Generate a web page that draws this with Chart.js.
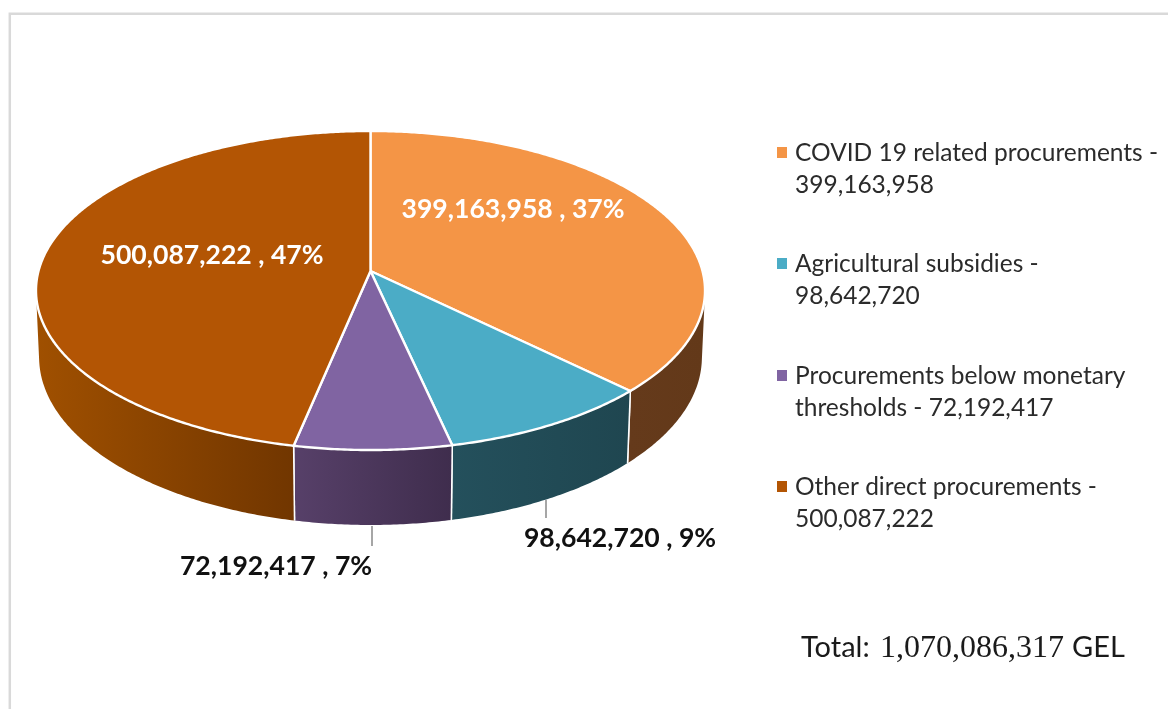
<!DOCTYPE html>
<html><head><meta charset="utf-8">
<style>html,body{margin:0;padding:0;background:#fff;overflow:hidden}canvas{display:block}</style>
<script src="https://cdn.jsdelivr.net/npm/chart.js@4/dist/chart.umd.js"></script>
</head><body><canvas id="c" width="1168" height="709"></canvas>
<script>
const categories = ["COVID 19 related procurements", "Agricultural subsidies", "Procurements below monetary thresholds", "Other direct procurements"];
const values = [399163958, 98642720, 72192417, 500087222];
const faceColors = ["#F49546", "#4BACC6", "#8064A2", "#B35504"];
const wallLeft = ["#653A1B", "#24505C", "#574069", "#A05000"];
const wallRight = ["#633919", "#1F4650", "#3F2D4D", "#713600"];
const labelColors = ["#ffffff", "#111111", "#111111", "#ffffff"];
const labelAnchors = [[513, 209], [620, 538], [276, 566], [212, 255]];
const leaders = [null, [546, 500, 518], [372, 526, 546], null];
const legendLines = [[161, 193], [272, 304], [384, 416], [495, 527]];
const unit = "GEL";

// Perspective projection of the flat pie plane onto the page
const top3d = {cx: 370.5, A: 332, a: 124, b: 271, c: -0.1223};
const bot3d = {cx: 370.5, A: 329, a: 125, b: 337, c: -0.12};
const wallFrom = 98, wallTo = 262;

const fmt = v => v.toLocaleString("en-US");
const total = values.reduce((s, v) => s + v, 0);
function proj(p, deg) {
  const r = deg * Math.PI / 180, u = Math.sin(r), v = -Math.cos(r), w = 1 + p.c * v;
  return [p.cx + p.A * u / w, (p.a * v + p.b) / w];
}
const toDeg = rad => (rad + Math.PI / 2) * 180 / Math.PI;

Chart.ArcElement.prototype.draw = function (ctx) {
  const {startAngle, endAngle} = this.getProps(["startAngle", "endAngle"]);
  const a = toDeg(startAngle), b = toDeg(endAngle);
  ctx.save();
  ctx.beginPath();
  ctx.moveTo(top3d.cx, top3d.b);
  for (let d = a; d < b; d += 0.5) ctx.lineTo(...proj(top3d, d));
  ctx.lineTo(...proj(top3d, b));
  ctx.closePath();
  ctx.fillStyle = this.options.backgroundColor;
  ctx.fill();
  ctx.strokeStyle = "#fff"; ctx.lineWidth = 2.4; ctx.lineJoin = "round";
  ctx.stroke();
  ctx.restore();
};

const pie3d = {
  id: "pie3d",
  beforeDraw(chart) {
    const ctx = chart.ctx;
    ctx.save();
    ctx.fillStyle = "#fff"; ctx.fillRect(0, 0, chart.width, chart.height);
    ctx.strokeStyle = "#D9D9D9"; ctx.lineWidth = 2.5;
    ctx.beginPath(); ctx.moveTo(9.8, chart.height); ctx.lineTo(9.8, 13.7); ctx.lineTo(chart.width, 13.7); ctx.stroke();
    ctx.restore();
  },
  beforeDatasetsDraw(chart) {
    const ctx = chart.ctx;
    chart.getDatasetMeta(0).data.forEach((el, i) => {
      const a = Math.max(toDeg(el.startAngle), wallFrom), b = Math.min(toDeg(el.endAngle), wallTo);
      if (b <= a) return;
      const pts = [];
      for (let d = a; d < b; d += 0.5) pts.push(proj(top3d, d));
      pts.push(proj(top3d, b));
      const low = [];
      for (let d = a; d < b; d += 0.5) low.push(proj(bot3d, d));
      low.push(proj(bot3d, b));
      const xs = pts.concat(low).map(p => p[0]);
      const g = ctx.createLinearGradient(Math.min(...xs), 0, Math.max(...xs), 0);
      g.addColorStop(0, wallLeft[i]); g.addColorStop(1, wallRight[i]);
      ctx.save();
      ctx.beginPath();
      pts.forEach((p, k) => k ? ctx.lineTo(...p) : ctx.moveTo(...p));
      low.reverse().forEach(p => ctx.lineTo(...p));
      ctx.closePath();
      ctx.fillStyle = g; ctx.fill();
      ctx.strokeStyle = "#fff"; ctx.lineWidth = 1.5;
      [toDeg(el.startAngle), toDeg(el.endAngle)].forEach(d => {
        if (d > wallFrom && d < wallTo) {
          ctx.beginPath(); ctx.moveTo(...proj(top3d, d)); ctx.lineTo(...proj(bot3d, d)); ctx.stroke();
        }
      });
      ctx.restore();
    });
  },
  afterDatasetsDraw(chart) {
    const ctx = chart.ctx;
    ctx.save();
    // data labels
    ctx.textBaseline = "middle"; ctx.textAlign = "center";
    ctx.font = "bold 26.6px Lato";
    values.forEach((v, i) => {
      ctx.fillStyle = labelColors[i];
      ctx.fillText(fmt(v) + " , " + Math.round(v / total * 100) + "%", labelAnchors[i][0], labelAnchors[i][1]);
      if (leaders[i]) {
        ctx.strokeStyle = "#A6A6A6"; ctx.lineWidth = 2;
        ctx.beginPath(); ctx.moveTo(leaders[i][0], leaders[i][1]); ctx.lineTo(leaders[i][0], leaders[i][2]); ctx.stroke();
      }
    });
    // legend
    ctx.textAlign = "left"; ctx.textBaseline = "alphabetic";
    ctx.font = "24.5px Lato";
    values.forEach((v, i) => {
      const words = (categories[i] + " - " + fmt(v)).split(" ");
      const lines = [""];
      words.forEach(w => {
        const t = lines[lines.length - 1] ? lines[lines.length - 1] + " " + w : w;
        if (ctx.measureText(t).width > 368) lines.push(w); else lines[lines.length - 1] = t;
      });
      ctx.fillStyle = faceColors[i];
      ctx.fillRect(777, legendLines[i][0] - 14, 10, 11);
      ctx.fillStyle = "#2B2B2B";
      lines.forEach((l, k) => ctx.fillText(l, 795, legendLines[i][k]));
    });
    // total
    ctx.fillStyle = "#1A1A1A";
    [["Total:", "29px Lato", 801], [fmt(total), "32px 'Liberation Serif'", 880], [unit, "29px Lato", 1072]].forEach(([t, f, x]) => {
      ctx.font = f; ctx.fillText(t, x, 657);
    });
    ctx.restore();
  }
};

new Chart(document.getElementById("c"), {
  type: "pie",
  data: {labels: categories, datasets: [{data: values, backgroundColor: faceColors, borderColor: "#fff", borderWidth: 2}]},
  options: {
    responsive: false, animation: false,
    plugins: {legend: {display: false}, tooltip: {enabled: false}},
    layout: {padding: {left: 36, right: 463, top: 131, bottom: 184}}
  },
  plugins: [pie3d]
});
</script></body></html>
